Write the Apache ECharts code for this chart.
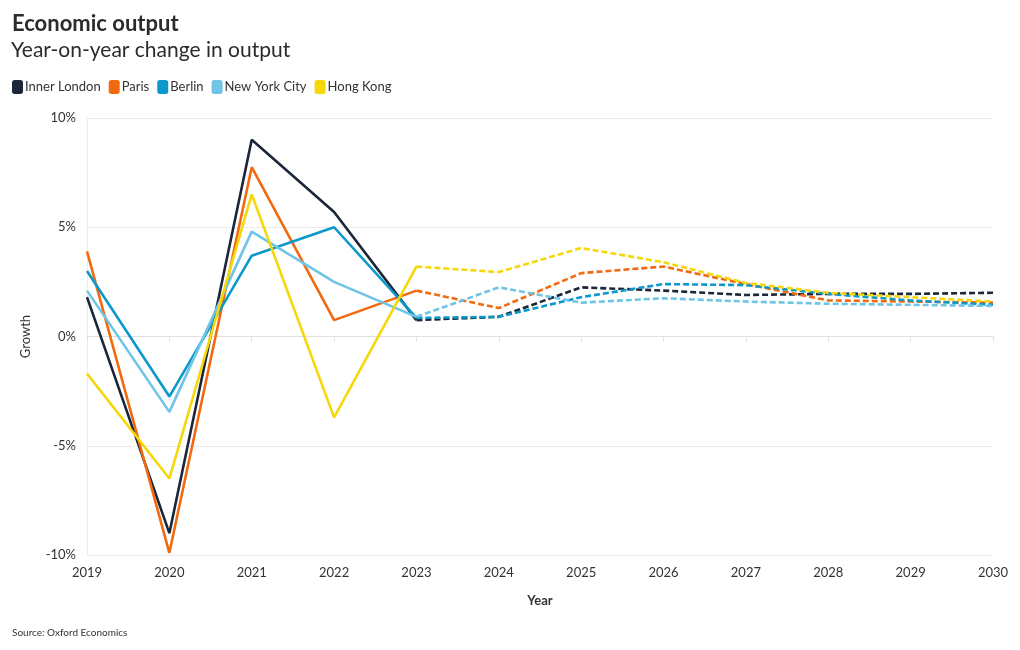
<!DOCTYPE html>
<html><head><meta charset="utf-8">
<script src="https://cdn.jsdelivr.net/npm/echarts@6/dist/echarts.min.js"></script>
<style>html,body{margin:0;padding:0;background:#fff}#c{width:1020px;height:650px}</style>
</head><body><div id="c"></div>
<script>
const years = ['2019','2020','2021','2022','2023','2024','2025','2026','2027','2028','2029','2030'];
const yTicks = [-10, -5, 0, 5, 10];
const cities = ['Inner London','Paris','Berlin','New York City','Hong Kong'];
const colors = ['#1b2638','#f26a10','#0b98cb','#6fc5e6','#f6d70a'];
// actual (2019-2023) and forecast (2023-2030)
const innerLondon = [1.8, -9.0, 9.0, 5.7, 0.75, 0.9, 2.25, 2.1, 1.9, 1.95, 1.95, 2.0];
const paris       = [3.9, -9.9, 7.75, 0.75, 2.1, 1.3, 2.9, 3.2, 2.4, 1.65, 1.6, 1.55];
const berlin      = [3.0, -2.75, 3.7, 5.0, 0.85, 0.9, 1.8, 2.4, 2.35, 1.95, 1.65, 1.45];
const newYork     = [2.1, -3.45, 4.8, 2.5, 0.9, 2.25, 1.55, 1.75, 1.6, 1.5, 1.45, 1.4];
const hongKong    = [-1.7, -6.5, 6.5, -3.7, 3.2, 2.95, 4.05, 3.4, 2.45, 2.0, 1.8, 1.6];
const seriesValues = [innerLondon, paris, berlin, newYork, hongKong];
const lastActual = 4; // index of 2023

const font = 'Lato, "Noto Sans", sans-serif';
const series = [];
cities.forEach((name, i) => {
  const vals = seriesValues[i];
  series.push({
    name, type: 'line', data: vals.map((v, k) => k <= lastActual ? v : null),
    showSymbol: false, symbol: 'none', lineStyle: {width: 2.6, color: colors[i]}, itemStyle: {color: colors[i]},
    z: 2, animation: false
  });
  series.push({
    name, type: 'line', data: vals.map((v, k) => k >= lastActual ? v : null),
    showSymbol: false, symbol: 'none', lineStyle: {width: 2.6, color: colors[i], type: [6, 3]}, itemStyle: {color: colors[i]},
    z: 2, animation: false
  });
});

const chart = echarts.init(document.getElementById('c'));
chart.setOption({
  backgroundColor: '#fff',
  textStyle: {fontFamily: font},
  title: [
    {text: 'Economic output', left: 12, top: 13, padding: 0, textStyle: {fontFamily: font, fontSize: 22, fontWeight: 'bold', color: '#2b2b2b'}},
    {text: 'Year-on-year change in output', left: 11, top: 40, padding: 0, textStyle: {fontFamily: font, fontSize: 21, fontWeight: 'normal', color: '#2b2b2b'}},
    {text: 'Source: Oxford Economics', left: 12, top: 628, padding: 0, textStyle: {fontFamily: font, fontSize: 10, fontWeight: 'normal', color: '#333'}}
  ],
  legend: {
    data: cities, left: 12, top: 80, padding: 0, icon: 'roundRect', itemWidth: 11, itemHeight: 14, itemGap: 8,
    textStyle: {fontFamily: font, fontSize: 13, color: '#333', padding: [0, 0, 0, -3]}
  },
  grid: {left: 87, right: 27, top: 118, bottom: 95, containLabel: false},
  xAxis: {
    type: 'category', data: years, boundaryGap: false,
    name: 'Year', nameLocation: 'middle', nameGap: 39,
    nameTextStyle: {fontFamily: font, fontSize: 13, fontWeight: 'bold', color: '#333'},
    axisLine: {lineStyle: {color: '#e0e0e0'}},
    axisTick: {show: true, alignWithLabel: true, lineStyle: {color: '#e0e0e0'}, length: 5},
    axisLabel: {color: '#333', fontSize: 13, margin: 11, showMinLabel: true, showMaxLabel: true},
    splitLine: {show: false}
  },
  yAxis: {
    type: 'value', min: yTicks[0], max: yTicks[yTicks.length - 1], interval: 5,
    name: 'Growth', nameLocation: 'middle', nameGap: 55,
    nameTextStyle: {fontFamily: font, fontSize: 13, color: '#333'},
    axisLine: {show: true, lineStyle: {color: '#ececec'}},
    axisTick: {show: false},
    axisLabel: {color: '#333', fontSize: 13, formatter: '{value}%', margin: 11},
    splitLine: {lineStyle: {color: '#ececec'}}
  },
  series
});
</script></body></html>
